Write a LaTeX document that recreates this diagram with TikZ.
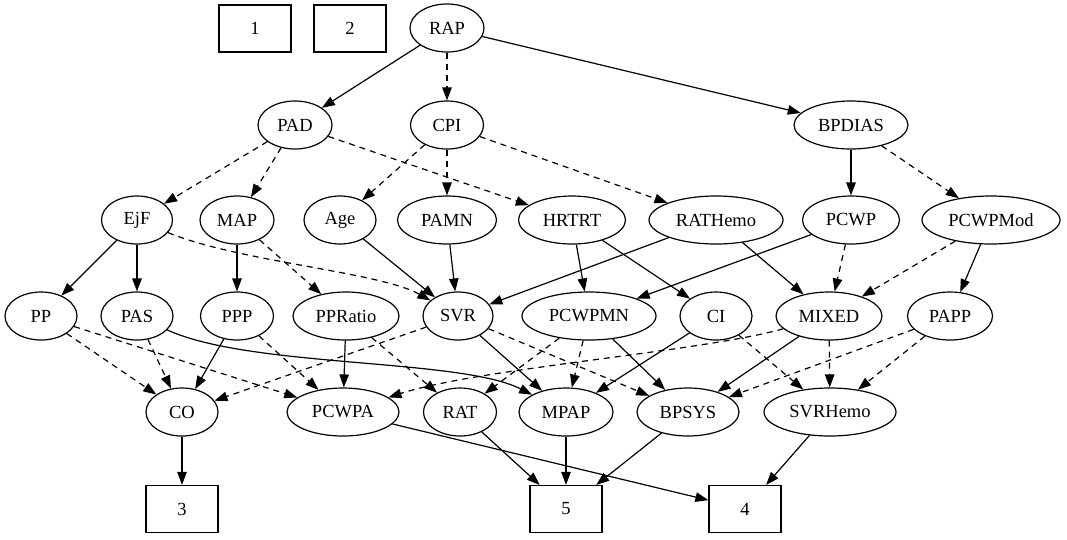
\documentclass[tikz,border=0pt]{standalone}
\usepackage{fontspec}
\setmainfont{Liberation Serif}
\usetikzlibrary{shapes.geometric,arrows.meta}
\begin{document}
\begin{tikzpicture}[x=1pt,y=-1pt,
  every node/.style={font=\fontsize{18.5}{22}\selectfont},
  ell/.style={draw, ellipse, inner sep=0pt, minimum height=48pt, line width=1.2pt},
  box/.style={draw, rectangle, inner sep=0pt, minimum width=72pt, minimum height=47pt, line width=1.2pt},
  solidedge/.style={line width=1.2pt, -{Triangle[length=13pt,width=9.5pt]}},
  dashedge/.style={solidedge, dash pattern=on 6pt off 5pt}]
\useasboundingbox (0,0) rectangle (1067,539);

% top row
\node[box] (n1) at (255,28.5) {1};
\node[box] (n2) at (350,28.5) {2};
\node[ell, minimum width=74pt] (RAP) at (447,28) {RAP};

% rank 1
\node[ell, minimum width=74pt] (PAD) at (295,125) {PAD};
\node[ell, minimum width=73pt] (CPI) at (447,125) {CPI};
\node[ell, minimum width=114pt] (BPDIAS) at (851,125) {BPDIAS};

% rank 2
\node[ell, minimum width=71pt] (EjF) at (137,220) {EjF};
\node[ell, minimum width=74pt] (MAP) at (237,220) {MAP};
\node[ell, minimum width=72pt] (Age) at (340,220) {Age};
\node[ell, minimum width=99pt] (PAMN) at (447,220) {PAMN};
\node[ell, minimum width=107pt] (HRTRT) at (572,220) {HRTRT};
\node[ell, minimum width=134pt] (RATHemo) at (716,220) {RATHemo};
\node[ell, minimum width=97pt] (PCWP) at (851,220) {PCWP};
\node[ell, minimum width=138pt] (PCWPMod) at (991,220) {PCWPMod};

% rank 3
\node[ell, minimum width=72pt] (PP) at (41,316) {PP};
\node[ell, minimum width=72pt] (PAS) at (137,316) {PAS};
\node[ell, minimum width=73pt] (PPP) at (237,316) {PPP};
\node[ell, minimum width=106pt] (PPRatio) at (346,316) {PPRatio};
\node[ell, minimum width=70pt] (SVR) at (458,316) {SVR};
\node[ell, minimum width=134pt] (PCWPMN) at (589,316) {PCWPMN};
\node[ell, minimum width=72pt] (CI) at (716,316) {CI};
\node[ell, minimum width=106pt] (MIXED) at (829,316) {MIXED};
\node[ell, minimum width=85pt] (PAPP) at (950,316) {PAPP};

% rank 4
\node[ell, minimum width=72pt] (CO) at (182,412) {CO};
\node[ell, minimum width=112pt] (PCWPA) at (343,412) {PCWPA};
\node[ell, minimum width=73pt] (RAT) at (460,412) {RAT};
\node[ell, minimum width=94pt] (MPAP) at (566,412) {MPAP};
\node[ell, minimum width=102pt] (BPSYS) at (688,412) {BPSYS};
\node[ell, minimum width=132pt] (SVRHemo) at (830,412) {SVRHemo};

% bottom row
\node[box] (n3) at (182,509) {3};
\node[box] (n5) at (566,509) {5};
\node[box] (n4) at (745,509) {4};

% edges from rank 0
\draw[solidedge] (RAP) -- (PAD);
\draw[dashedge] (RAP) -- (CPI);
\draw[solidedge] (RAP) -- (BPDIAS);

% edges from rank 1
\draw[dashedge] (PAD) -- (EjF);
\draw[dashedge] (PAD) -- (MAP);
\draw[dashedge] (PAD) -- (HRTRT);
\draw[dashedge] (CPI) -- (Age);
\draw[dashedge] (CPI) -- (PAMN);
\draw[dashedge] (CPI) -- (RATHemo);
\draw[solidedge] (BPDIAS) -- (PCWP);
\draw[dashedge] (BPDIAS) -- (PCWPMod);

% edges from rank 2
\draw[solidedge] (EjF) -- (PP);
\draw[solidedge] (EjF) -- (PAS);
\draw[dashedge] (EjF) .. controls (240,262) and (380,272) .. (SVR);
\draw[solidedge] (MAP) -- (PPP);
\draw[dashedge] (MAP) -- (PPRatio);
\draw[solidedge] (Age) -- (SVR);
\draw[solidedge] (PAMN) -- (SVR);
\draw[solidedge] (HRTRT) -- (PCWPMN);
\draw[solidedge] (HRTRT) -- (CI);
\draw[solidedge] (RATHemo) -- (SVR);
\draw[solidedge] (RATHemo) -- (MIXED);
\draw[solidedge] (PCWP) -- (PCWPMN);
\draw[dashedge] (PCWP) -- (MIXED);
\draw[dashedge] (PCWPMod) -- (MIXED);
\draw[solidedge] (PCWPMod) -- (PAPP);

% edges from rank 3
\draw[dashedge] (PP) -- (CO);
\draw[dashedge] (PP) -- (PCWPA);
\draw[dashedge] (PAS) -- (CO);
\draw[solidedge] (PAS) .. controls (250,368) and (460,358) .. (MPAP);
\draw[solidedge] (PPP) -- (CO);
\draw[dashedge] (PPP) -- (PCWPA);
\draw[solidedge] (PPRatio) -- (PCWPA);
\draw[dashedge] (PPRatio) -- (RAT);
\draw[dashedge] (SVR) -- (CO);
\draw[solidedge] (SVR) -- (MPAP);
\draw[dashedge] (SVR) -- (BPSYS);
\draw[dashedge] (PCWPMN) -- (RAT);
\draw[dashedge] (PCWPMN) -- (MPAP);
\draw[solidedge] (PCWPMN) -- (BPSYS);
\draw[solidedge] (CI) -- (MPAP);
\draw[dashedge] (CI) -- (SVRHemo);
\draw[dashedge] (MIXED) .. controls (700,352) and (480,368) .. (PCWPA);
\draw[solidedge] (MIXED) -- (BPSYS);
\draw[dashedge] (MIXED) -- (SVRHemo);
\draw[dashedge] (PAPP) -- (BPSYS);
\draw[dashedge] (PAPP) -- (SVRHemo);

% edges into the bottom row
\draw[solidedge] (CO) -- (n3);
\draw[solidedge] (PCWPA) -- (n4);
\draw[solidedge] (RAT) -- (n5);
\draw[solidedge] (MPAP) -- (n5);
\draw[solidedge] (BPSYS) -- (n5);
\draw[solidedge] (SVRHemo) -- (n4);
\end{tikzpicture}
\end{document}
